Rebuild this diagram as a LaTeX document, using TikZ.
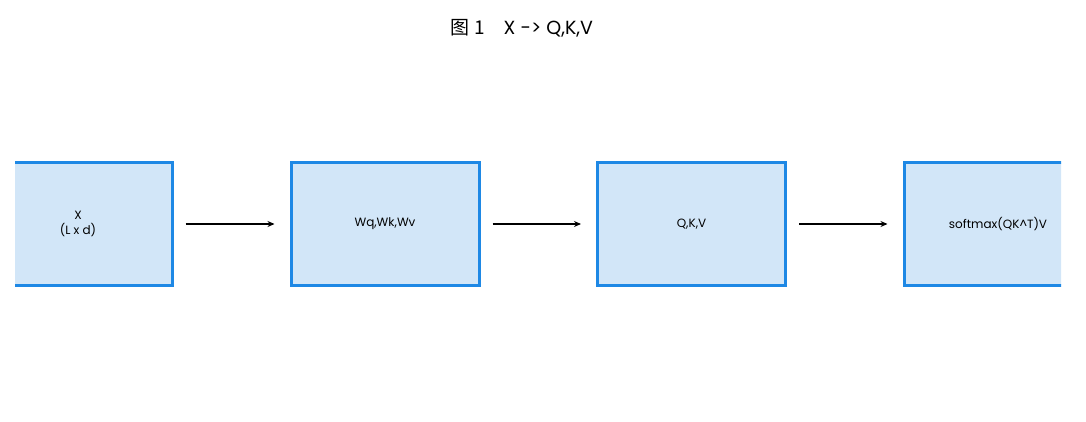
\documentclass[tikz,border=0pt]{standalone}
\usepackage{fontspec}
\setmainfont{Poppins}
\newfontfamily\cjk{Noto Sans CJK SC}
\usetikzlibrary{arrows.meta}
\definecolor{bd}{HTML}{1E88E5}
\definecolor{bf}{HTML}{D2E6F8}
\begin{document}
\begin{tikzpicture}[x=1pt,y=1pt,
  blk/.style={draw=bd,fill=bf,line width=3pt,minimum width=188pt,minimum height=122pt,inner sep=0pt,align=center,font=\fontsize{12}{15}\selectfont},
  arr/.style={-{Stealth[length=7pt,width=6pt]},line width=1.6pt}]
\useasboundingbox (0,0) rectangle (1086,421);
\node[font=\fontsize{19}{22}\selectfont] (t) at (522,393) {{\cjk 图 1}\quad X -> Q,K,V};
\begin{scope}
\clip (15,0) rectangle (1061,421);
\node[blk] (a) at (78,197) {X\\(L x d)};
\node[blk] (b) at (385,197) {Wq,Wk,Wv};
\node[blk] (c) at (691.5,197) {Q,K,V};
\node[blk] (d) at (998,197) {softmax(QK\^{}T)V};
\end{scope}
\draw[arr] ([xshift=12pt]a.east) -- ([xshift=-15pt]b.west);
\draw[arr] ([xshift=12pt]b.east) -- ([xshift=-15pt]c.west);
\draw[arr] ([xshift=12pt]c.east) -- ([xshift=-15pt]d.west);
\end{tikzpicture}
\end{document}
